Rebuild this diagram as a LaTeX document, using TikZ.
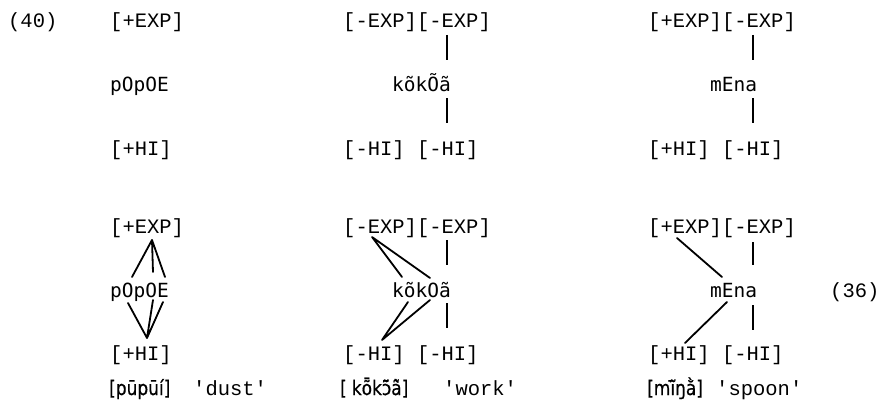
\documentclass[tikz,border=0pt]{standalone}
\usepackage{fontspec}
\setmonofont{Liberation Mono}
\newfontfamily\wordfont{DejaVu Sans Mono}
\newfontfamily\ipafont[FakeStretch=0.85,FakeBold=0.6]{DejaVu Sans}
\begin{document}
\begin{tikzpicture}[x=1pt,y=-1pt,
  feat/.style={font=\fontsize{20.5}{24}\selectfont\ttfamily, inner sep=0pt, anchor=base west},
  word/.style={font=\fontsize{19.5}{24}\selectfont\wordfont, inner sep=0pt, anchor=base west},
  ipa/.style={font=\fontsize{20}{24}\selectfont\ipafont, inner sep=0pt, anchor=base west},
  assoc/.style={line width=1.1pt},
  newassoc/.style={line width=1.8pt, line cap=round}]
\useasboundingbox (0,0) rectangle (886,404);

% ---------- example number ----------
\node[feat] (exno) at (8,28) {(40)};

% ---------- underlying forms ----------
% dust
\node[feat] (ua1) at (110,28) {[+EXP]};
\node[word] (uaw) at (110,92) {pOpOE};
\node[feat] (uah) at (110,155) {[+HI]};
% work
\node[feat] (ub1) at (343,28) {[-EXP]};
\node[feat] (ub2) at (416.8,28) {[-EXP]};
\node[word] (ubw) at (392,92) {kõkÕã};
\node[feat] (ubh1) at (343,155) {[-HI]};
\node[feat] (ubh2) at (416.8,155) {[-HI]};
% spoon
\node[feat] (uc1) at (648,28) {[+EXP]};
\node[feat] (uc2) at (721.8,28) {[-EXP]};
\node[word] (ucw) at (710,92) {mEna};
\node[feat] (uch1) at (648,155) {[+HI]};
\node[feat] (uch2) at (721.8,155) {[-HI]};

% pre-linked associations
\coordinate (ubA) at (447,35);  \coordinate (ubB) at (447,60);
\coordinate (ubC) at (447,98);  \coordinate (ubD) at (447,123);
\coordinate (ucA) at (753,35);  \coordinate (ucB) at (753,60);
\coordinate (ucC) at (753,98);  \coordinate (ucD) at (753,123);
\draw[assoc] (ubA) -- (ubB) (ubC) -- (ubD);
\draw[assoc] (ucA) -- (ucB) (ucC) -- (ucD);

% ---------- after association ----------
% dust
\node[feat] (sa1) at (110,233) {[+EXP]};
\node[word] (saw) at (110,297) {pOpOE};
\node[feat] (sah) at (110,360) {[+HI]};
\node[ipa]  (sat) at (109,395) {[pūpūí]};
\node[feat] (sag) at (193,395) {'dust'};
% work
\node[feat] (sb1) at (343,233) {[-EXP]};
\node[feat] (sb2) at (416.8,233) {[-EXP]};
\node[word] (sbw) at (392,297) {kõkOã};
\node[feat] (sbh1) at (343,360) {[-HI]};
\node[feat] (sbh2) at (416.8,360) {[-HI]};
\node[ipa]  (sbt) at (340,395) {[\hspace{5pt}kȭkɔ̃̄ã̀]};
\node[feat] (sbg) at (443,395) {'work'};
% spoon
\node[feat] (sc1) at (648,233) {[+EXP]};
\node[feat] (sc2) at (721.8,233) {[-EXP]};
\node[word] (scw) at (710,297) {mEna};
\node[feat] (sch1) at (648,360) {[+HI]};
\node[feat] (sch2) at (721.8,360) {[-HI]};
\node[ipa]  (sct) at (647,395) {[mĩ̄ŋằ]};
\node[feat] (scg) at (716,395) {'spoon'};

\node[feat] (rule) at (830,297) {(36)};

% dust: one feature spread over all vowels
\coordinate (saE) at (152,240);
\coordinate (saV1) at (132,277); \coordinate (saV2) at (153,272); \coordinate (saV3) at (165,277);
\coordinate (saW1) at (128,303); \coordinate (saW2) at (153,300); \coordinate (saW3) at (163,302);
\coordinate (saH) at (147,338);
\draw[newassoc] (saE) -- (saV1) (saE) -- (saV2) (saE) -- (saV3);
\draw[newassoc] (saW1) -- (saH) (saW2) -- (saH) (saW3) -- (saH);

% work
\coordinate (sbE) at (372,237);
\coordinate (sbV1) at (402,277); \coordinate (sbV2) at (430,278);
\coordinate (sbW1) at (408,302); \coordinate (sbW2) at (430,300);
\coordinate (sbH) at (382,340);
\draw[newassoc] (sbE) -- (sbV1) (sbE) -- (sbV2);
\draw[newassoc] (sbW1) -- (sbH) (sbW2) -- (sbH);
\coordinate (sbA) at (447,240); \coordinate (sbB) at (447,265);
\coordinate (sbC) at (447,303); \coordinate (sbD) at (447,328);
\draw[assoc] (sbA) -- (sbB) (sbC) -- (sbD);

% spoon
\coordinate (scE) at (677,238); \coordinate (scV) at (722,277);
\coordinate (scW) at (727,302); \coordinate (scH) at (685,343);
\draw[newassoc] (scE) -- (scV) (scW) -- (scH);
\coordinate (scA) at (753,242); \coordinate (scB) at (753,265);
\coordinate (scC) at (753,305); \coordinate (scD) at (753,330);
\draw[assoc] (scA) -- (scB) (scC) -- (scD);
\end{tikzpicture}
\end{document}
